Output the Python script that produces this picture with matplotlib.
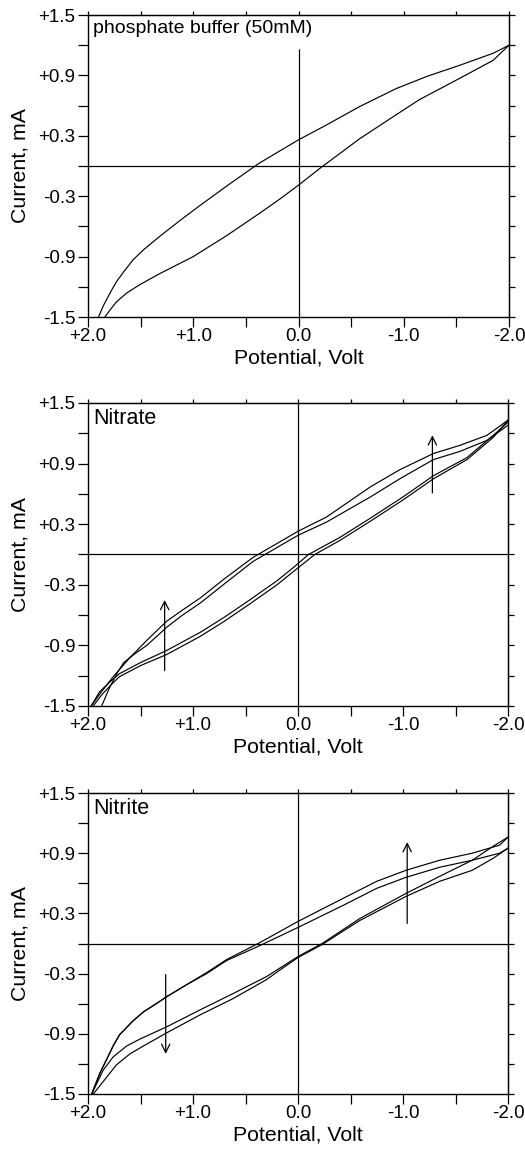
import matplotlib
matplotlib.use("Agg")
import matplotlib.pyplot as plt

plt.rcParams['font.family'] = ['Liberation Sans', 'DejaVu Sans']

# ---------------- data ----------------
# Panel 1: phosphate buffer
p1_upper_V = [1.90, 1.855, 1.79, 1.73, 1.66, 1.57, 1.47, 1.32, 1.13, 0.94, 0.65, 0.37, 0.00, -0.27, -0.58, -0.93, -1.22, -1.53, -1.85, -2.00]
p1_upper_I = [-1.50, -1.39, -1.26, -1.15, -1.05, -0.93, -0.83, -0.70, -0.545, -0.395, -0.175, 0.03, 0.26, 0.41, 0.59, 0.77, 0.89, 1.00, 1.12, 1.20]
p1_lower_V = [1.84, 1.79, 1.73, 1.63, 1.51, 1.32, 1.00, 0.68, 0.37, 0.18, 0.00, -0.22, -0.58, -0.90, -1.15, -1.53, -1.85, -2.00]
p1_lower_I = [-1.50, -1.43, -1.35, -1.26, -1.18, -1.07, -0.90, -0.69, -0.47, -0.33, -0.19, -0.01, 0.27, 0.49, 0.66, 0.87, 1.05, 1.20]

# Panel 2: nitrate (two cycles)
p2_upA_V = [1.97, 1.88, 1.76, 1.60, 1.44, 1.25, 1.10, 0.93, 0.70, 0.43, 0.00, -0.27, -0.69, -0.97, -1.29, -1.54, -1.80, -2.00]
p2_upA_I = [-1.50, -1.37, -1.21, -1.02, -0.85, -0.66, -0.55, -0.43, -0.24, -0.03, 0.23, 0.37, 0.67, 0.84, 1.00, 1.08, 1.18, 1.33]
p2_upB_V = [1.87, 1.80, 1.72, 1.66, 1.55, 1.44, 1.25, 1.10, 0.93, 0.70, 0.43, 0.00, -0.27, -0.69, -0.97, -1.29, -1.54, -1.80, -2.00]
p2_upB_I = [-1.50, -1.33, -1.17, -1.07, -0.98, -0.90, -0.72, -0.60, -0.48, -0.29, -0.07, 0.19, 0.32, 0.57, 0.75, 0.94, 1.02, 1.13, 1.28]
p2_loC_V = [1.97, 1.89, 1.79, 1.70, 1.50, 1.25, 0.93, 0.70, 0.46, 0.20, 0.045, -0.10, -0.40, -0.69, -1.00, -1.29, -1.61, -1.86, -2.00]
p2_loC_I = [-1.50, -1.36, -1.26, -1.18, -1.07, -0.95, -0.77, -0.62, -0.45, -0.26, -0.13, 0.00, 0.17, 0.36, 0.57, 0.78, 0.96, 1.18, 1.31]
p2_loD_V = [1.95, 1.87, 1.78, 1.70, 1.50, 1.25, 0.93, 0.70, 0.46, 0.20, 0.045, -0.16, -0.40, -0.69, -1.00, -1.29, -1.61, -1.86, -2.00]
p2_loD_I = [-1.50, -1.39, -1.29, -1.21, -1.10, -0.99, -0.81, -0.66, -0.49, -0.30, -0.17, 0.00, 0.14, 0.33, 0.54, 0.75, 0.94, 1.16, 1.33]

# Panel 3: nitrite (two cycles)
p3_upE_V = [1.965, 1.886, 1.82, 1.76, 1.70, 1.57, 1.47, 1.35, 1.25, 1.06, 0.87, 0.68, 0.362, 0.00, -0.43, -0.75, -1.03, -1.35, -1.66, -1.92, -2.00]
p3_upE_I = [-1.50, -1.29, -1.15, -1.02, -0.91, -0.77, -0.68, -0.60, -0.53, -0.41, -0.29, -0.16, 0.01, 0.22, 0.45, 0.62, 0.73, 0.83, 0.90, 0.98, 1.06]
p3_upF_V = [1.965, 1.886, 1.82, 1.76, 1.70, 1.57, 1.47, 1.35, 1.25, 1.06, 0.87, 0.68, 0.362, 0.00, -0.43, -0.75, -1.03, -1.35, -1.66, -1.92, -2.00]
p3_upF_I = [-1.50, -1.29, -1.15, -1.02, -0.91, -0.77, -0.68, -0.60, -0.53, -0.41, -0.30, -0.17, -0.02, 0.16, 0.38, 0.55, 0.66, 0.76, 0.83, 0.90, 0.95]
p3_loG_V = [1.965, 1.854, 1.76, 1.63, 1.50, 1.25, 0.93, 0.62, 0.30, 0.18, 0.00, -0.23, -0.59, -1.03, -1.35, -1.66, -1.86, -2.00]
p3_loG_I = [-1.50, -1.26, -1.13, -1.02, -0.95, -0.83, -0.66, -0.50, -0.33, -0.25, -0.13, 0.00, 0.25, 0.50, 0.67, 0.83, 0.97, 1.06]
p3_loH_V = [1.95, 1.82, 1.73, 1.60, 1.47, 1.25, 0.93, 0.62, 0.30, 0.18, 0.00, -0.23, -0.59, -1.03, -1.35, -1.66, -1.86, -2.00]
p3_loH_I = [-1.50, -1.33, -1.21, -1.10, -1.02, -0.89, -0.71, -0.55, -0.36, -0.27, -0.14, -0.01, 0.23, 0.47, 0.62, 0.73, 0.85, 0.95]

# arrows: (x, y_start, y_end)
p2_arrows = [(1.27, -1.15, -0.45), (-1.28, 0.61, 1.18)]
p3_arrows = [(1.26, -0.31, -1.10), (-1.04, 0.20, 1.01)]

panel_titles = ["phosphate buffer (50mM)", "Nitrate", "Nitrite"]

x_ticks = [2.0, 1.5, 1.0, 0.5, 0.0, -0.5, -1.0, -1.5, -2.0]
x_ticklabels = ["+2.0", "", "+1.0", "", "0.0", "", "-1.0", "", "-2.0"]
y_ticks = [-1.5, -1.2, -0.9, -0.6, -0.3, 0.0, 0.3, 0.6, 0.9, 1.2, 1.5]
y_ticklabels = ["-1.5", "", "-0.9", "", "-0.3", "", "+0.3", "", "+0.9", "", "+1.5"]

# ---------------- figure ----------------
W, H = 525, 1154
fig = plt.figure(figsize=(W / 100, H / 100), dpi=100)

# (left, top, right, bottom) pixel boxes
boxes = [(88, 15, 509, 317), (88, 403, 508, 706), (88, 793, 508, 1094)]

curves = [
    [(p1_upper_V, p1_upper_I), (p1_lower_V, p1_lower_I)],
    [(p2_upA_V, p2_upA_I), (p2_upB_V, p2_upB_I), (p2_loC_V, p2_loC_I), (p2_loD_V, p2_loD_I)],
    [(p3_upE_V, p3_upE_I), (p3_upF_V, p3_upF_I), (p3_loG_V, p3_loG_I), (p3_loH_V, p3_loH_I)],
]
arrows = [[], p2_arrows, p3_arrows]
vline_top = [1.16, 1.5, 1.5]

for i, (l, t, r, b) in enumerate(boxes):
    ax = fig.add_axes([l / W, 1 - b / H, (r - l) / W, (b - t) / H])
    for V, I in curves[i]:
        ax.plot(V, I, color='black', lw=0.85, solid_joinstyle='round')
    ax.set_xlim(2.0, -2.0)
    ax.set_ylim(-1.5, 1.5)
    ax.axhline(0, color='black', lw=0.9)
    ax.vlines(0, -1.5, vline_top[i], color='black', lw=0.9)
    for (xa, y0, y1) in arrows[i]:
        ax.annotate("", xy=(xa, y1), xytext=(xa, y0),
                    arrowprops=dict(arrowstyle='->', color='black', lw=0.9,
                                    mutation_scale=15, shrinkA=0, shrinkB=0))
    ax.set_xticks(x_ticks)
    ax.set_xticklabels(x_ticklabels)
    ax.set_yticks(y_ticks)
    ax.set_yticklabels(y_ticklabels)
    ax.tick_params(direction='out', length=7, width=0.9, labelsize=13.5, pad=2)
    ax.tick_params(axis='x', pad=1)
    for s in ax.spines.values():
        s.set_linewidth(1.0)
    sx = ax.secondary_xaxis('top')
    sx.set_xticks(x_ticks)
    sx.tick_params(direction='out', length=3, width=0.9, labeltop=False)
    sy = ax.secondary_yaxis('right')
    sy.set_yticks(y_ticks)
    sy.tick_params(direction='out', length=4, width=0.9, labelright=False)
    ax.set_xlabel("Potential, Volt", fontsize=15.3)
    ax.set_ylabel("Current, mA", fontsize=15.3)
    ax.xaxis.set_label_coords(0.5, -0.105)
    ax.yaxis.set_label_coords(-0.14, 0.5)
    fs = 14 if i == 0 else 15.5
    ax.text(0.012, 0.985, panel_titles[i], transform=ax.transAxes,
            ha='left', va='top', fontsize=fs)

fig.savefig("out.png", dpi=100)
